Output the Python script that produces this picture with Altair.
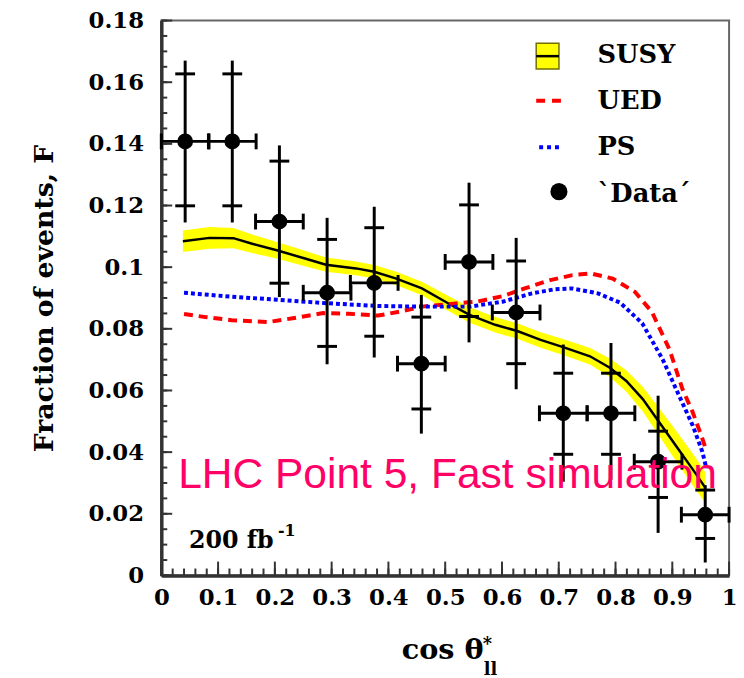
import altair as alt
import numpy as np
import pandas as pd

# ---------------- data ----------------
# SUSY prediction (black line) with its yellow uncertainty band
susy_x = [0.038, 0.085, 0.127, 0.160, 0.205, 0.253, 0.290, 0.343, 0.375, 0.414,
          0.459, 0.505, 0.543, 0.588, 0.627, 0.668, 0.709, 0.755, 0.790, 0.819,
          0.848, 0.877, 0.912, 0.941, 0.958]
susy_y = [0.1084, 0.1095, 0.1094, 0.1076, 0.1054, 0.1028, 0.1008, 0.0996, 0.0985, 0.0963,
          0.0931, 0.0883, 0.0845, 0.0813, 0.0793, 0.0764, 0.0740, 0.0711, 0.0674, 0.0631,
          0.0572, 0.0497, 0.0406, 0.0331, 0.0285]
susy_err = [0.0035, 0.0035, 0.0033, 0.0030, 0.0027, 0.0025, 0.0023, 0.0022, 0.0022, 0.0022,
            0.0022, 0.0024, 0.0025, 0.0025, 0.0025, 0.0025, 0.0026, 0.0027, 0.0030, 0.0035,
            0.0040, 0.0045, 0.0050, 0.0052, 0.0050]

# UED prediction (red dashed)
ued_x = [0.040, 0.078, 0.124, 0.188, 0.234, 0.285, 0.330, 0.382, 0.421, 0.459,
         0.511, 0.556, 0.601, 0.640, 0.685, 0.724, 0.756, 0.795, 0.834, 0.864,
         0.895, 0.918, 0.936, 0.953, 0.960]
ued_y = [0.0848, 0.0838, 0.0828, 0.0822, 0.0835, 0.0851, 0.0849, 0.0843, 0.0856, 0.0872,
         0.0881, 0.0888, 0.0906, 0.0931, 0.0958, 0.0974, 0.0980, 0.0963, 0.0920, 0.0855,
         0.0733, 0.0604, 0.0529, 0.0444, 0.0405]

# PS prediction (blue dotted)
ps_x = [0.040, 0.124, 0.208, 0.292, 0.382, 0.466, 0.543, 0.601, 0.653, 0.692,
        0.724, 0.769, 0.808, 0.847, 0.883, 0.912, 0.936, 0.953, 0.960]
ps_y = [0.0917, 0.0904, 0.0894, 0.0883, 0.0874, 0.0872, 0.0872, 0.0888, 0.0915, 0.0928,
        0.0931, 0.0915, 0.0885, 0.0818, 0.0701, 0.0583, 0.0486, 0.0401, 0.0347]

# 'Data' points with two levels of vertical errors and bin half-width
data_x = [0.042, 0.125, 0.208, 0.292, 0.375, 0.458, 0.542, 0.625, 0.708, 0.792, 0.875, 0.958]
data_y = [0.1408, 0.1408, 0.1148, 0.0917, 0.0949, 0.0687, 0.1017, 0.0853, 0.0526, 0.0526, 0.0369, 0.0197]
inner_hi = [0.1627, 0.1627, 0.1344, 0.1090, 0.1128, 0.0838, 0.1202, 0.1020, 0.0656, 0.0656, 0.0468, 0.0277]
inner_lo = [0.1199, 0.1199, 0.0948, 0.0743, 0.0776, 0.0540, 0.0840, 0.0687, 0.0393, 0.0393, 0.0253, 0.0120]
outer_hi = [0.1670, 0.1670, 0.1395, 0.1160, 0.1196, 0.0910, 0.1274, 0.1095, 0.0749, 0.0754, 0.0583, 0.0293]
outer_lo = [0.1145, 0.1145, 0.0903, 0.0685, 0.0707, 0.0460, 0.0756, 0.0604, 0.0304, 0.0310, 0.0138, 0.0042]
x_half = [0.042] * 12

x_ticks = [0, 0.1, 0.2, 0.3, 0.4, 0.5, 0.6, 0.7, 0.8, 0.9, 1]
x_minor = [round(i * 0.02, 2) for i in range(51)]
y_ticks = [0, 0.02, 0.04, 0.06, 0.08, 0.1, 0.12, 0.14, 0.16, 0.18]
y_minor = [round(i * 0.005, 3) for i in range(37)]

legend_labels = ["SUSY", "UED", "PS", "`Data´"]

# ---------------- tables ----------------
band_df = pd.DataFrame({
    "x": susy_x, "y": susy_y,
    "lo": np.array(susy_y) - np.array(susy_err),
    "hi": np.array(susy_y) + np.array(susy_err),
})
ued_df = pd.DataFrame({"x": ued_x, "y": ued_y})
ps_df = pd.DataFrame({"x": ps_x, "y": ps_y})
pts = pd.DataFrame({
    "x": data_x, "y": data_y,
    "ilo": inner_lo, "ihi": inner_hi, "olo": outer_lo, "ohi": outer_hi,
    "xlo": np.array(data_x) - np.array(x_half),
    "xhi": np.array(data_x) + np.array(x_half),
})
xmaj_df = pd.DataFrame({"v": x_ticks})
xmin_df = pd.DataFrame({"v": x_minor})
ymaj_df = pd.DataFrame({"v": y_ticks})
ymin_df = pd.DataFrame({"v": y_minor})
one = pd.DataFrame({"d": [0]})

W, H = 574, 561
SERIF = "DejaVu Serif"
AXC = "#333333"

xs = alt.Scale(domain=[0, 1], nice=False, zero=False)
ys = alt.Scale(domain=[0, 0.18], nice=False, zero=False)

ax_x_main = alt.Axis(orient="bottom", values=x_ticks, ticks=False, tickSize=0, labelPadding=11,
                     domain=True, domainColor=AXC, domainWidth=3.5, grid=False,
                     labelFont=SERIF, labelFontSize=23, labelFontWeight="bold", labelColor="black",
                     format="~g", title=None, labelFlush=False)
ax_y_main = alt.Axis(orient="left", values=y_ticks, ticks=False, tickSize=0, labelPadding=18,
                     domain=True, domainColor=AXC, domainWidth=3.5, grid=False,
                     labelFont=SERIF, labelFontSize=23, labelFontWeight="bold", labelColor="black",
                     format="~g", labelFlush=False,
                     title="Fraction of events, F", titleFont=SERIF, titleFontSize=27,
                     titleFontWeight="bold", titleColor="black", titleAngle=270,
                     titleX=-110, titleY=H / 2, titleAlign="center", titleBaseline="alphabetic")

band = alt.Chart(band_df).mark_area(color="#ffff00", opacity=1).encode(
    x=alt.X("x:Q", scale=xs, axis=ax_x_main),
    y=alt.Y("lo:Q", scale=ys, axis=ax_y_main),
    y2="hi:Q",
)

# inward ticks, placed through the scales
tick_y_major = alt.Chart(ymaj_df).mark_rule(color=AXC, strokeWidth=2).encode(
    y=alt.Y("v:Q", scale=ys, axis=None), x=alt.value(0), x2=alt.value(11))
tick_y_minor = alt.Chart(ymin_df).mark_rule(color=AXC, strokeWidth=2).encode(
    y=alt.Y("v:Q", scale=ys, axis=None), x=alt.value(0), x2=alt.value(6))
tick_x_major = alt.Chart(xmaj_df).mark_rule(color=AXC, strokeWidth=2).encode(
    x=alt.X("v:Q", scale=xs, axis=None), y=alt.value(H), y2=alt.value(H - 14))
tick_x_minor = alt.Chart(xmin_df).mark_rule(color=AXC, strokeWidth=2).encode(
    x=alt.X("v:Q", scale=xs, axis=None), y=alt.value(H), y2=alt.value(H - 7))

susy = alt.Chart(band_df).mark_line(color="black", strokeWidth=2.5).encode(
    x=alt.X("x:Q", scale=xs, axis=None),
    y=alt.Y("y:Q", scale=ys, axis=None),
)
ued = alt.Chart(ued_df).mark_line(color="#ff0000", strokeWidth=4, strokeDash=[9, 6]).encode(
    x=alt.X("x:Q", scale=xs, axis=None),
    y=alt.Y("y:Q", scale=ys, axis=None),
)
ps = alt.Chart(ps_df).mark_line(color="#0000ff", strokeWidth=4, strokeDash=[4, 3]).encode(
    x=alt.X("x:Q", scale=xs, axis=None),
    y=alt.Y("y:Q", scale=ys, axis=None),
)

vbar = alt.Chart(pts).mark_rule(color="black", strokeWidth=3).encode(
    x=alt.X("x:Q", scale=xs, axis=None),
    y=alt.Y("olo:Q", scale=ys, axis=None), y2="ohi:Q",
)
hbar = alt.Chart(pts).mark_rule(color="black", strokeWidth=3).encode(
    x=alt.X("xlo:Q", scale=xs, axis=None), x2="xhi:Q",
    y=alt.Y("y:Q", scale=ys, axis=None),
)
cap_l = alt.Chart(pts).mark_tick(color="black", orient="vertical", size=16, thickness=3, opacity=1).encode(
    x=alt.X("xlo:Q", scale=xs, axis=None), y=alt.Y("y:Q", scale=ys, axis=None))
cap_r = alt.Chart(pts).mark_tick(color="black", orient="vertical", size=16, thickness=3, opacity=1).encode(
    x=alt.X("xhi:Q", scale=xs, axis=None), y=alt.Y("y:Q", scale=ys, axis=None))
cross_hi = alt.Chart(pts).mark_tick(color="black", orient="horizontal", size=20, thickness=3, opacity=1).encode(
    x=alt.X("x:Q", scale=xs, axis=None), y=alt.Y("ihi:Q", scale=ys, axis=None))
cross_lo = alt.Chart(pts).mark_tick(color="black", orient="horizontal", size=20, thickness=3, opacity=1).encode(
    x=alt.X("x:Q", scale=xs, axis=None), y=alt.Y("ilo:Q", scale=ys, axis=None))
points = alt.Chart(pts).mark_circle(color="black", size=254, opacity=1).encode(
    x=alt.X("x:Q", scale=xs, axis=None), y=alt.Y("y:Q", scale=ys, axis=None))

# ---------------- legend (drawn by hand) ----------------
leg_box = alt.Chart(one).mark_rect(fill="#ffff00", stroke="#707000", strokeWidth=1.5).encode(
    x=alt.value(379), x2=alt.value(402), y=alt.value(23), y2=alt.value(49))
leg_susy = alt.Chart(one).mark_rule(color="black", strokeWidth=2.5).encode(
    x=alt.value(379), x2=alt.value(402), y=alt.value(36))
leg_ued = alt.Chart(one).mark_rule(color="#ff0000", strokeWidth=4, strokeDash=[9, 7]).encode(
    x=alt.value(379), x2=alt.value(404), y=alt.value(81))
leg_ps = alt.Chart(one).mark_rule(color="#0000ff", strokeWidth=4, strokeDash=[4, 4]).encode(
    x=alt.value(382), x2=alt.value(404), y=alt.value(128))
leg_pt = alt.Chart(one).mark_circle(color="black", size=300, opacity=1).encode(
    x=alt.value(402), y=alt.value(173))
leg_text = [
    alt.Chart(one).mark_text(text=lab, font=SERIF, fontSize=26, fontWeight="bold", color="black",
                             align="left", baseline="middle").encode(
        x=alt.value(441), y=alt.value(yy))
    for lab, yy in zip(legend_labels, [35, 81, 128, 175])
]

# ---------------- annotations ----------------
lumi = alt.Chart(one).mark_text(text="200 fb", font=SERIF, fontSize=24, fontWeight="bold",
                                color="black", align="left", baseline="alphabetic").encode(
    x=alt.value(28), y=alt.value(533))
lumi_exp = alt.Chart(one).mark_text(text="-1", font=SERIF, fontSize=16, fontWeight="bold",
                                    color="black", align="left", baseline="alphabetic").encode(
    x=alt.value(118), y=alt.value(521))
lhc = alt.Chart(one).mark_text(text="LHC Point 5, Fast simulation", font="Liberation Sans",
                               fontSize=43, color="#ff0066", align="left",
                               baseline="alphabetic").encode(
    x=alt.value(17), y=alt.value(473))
xt_main = alt.Chart(one).mark_text(text="cos θ", font=SERIF, fontSize=29, fontWeight="bold",
                                   color="black", align="left", baseline="alphabetic").encode(
    x=alt.value(243), y=alt.value(645))
xt_sup = alt.Chart(one).mark_text(text="*", font=SERIF, fontSize=18, fontWeight="bold",
                                  color="black", align="left", baseline="alphabetic").encode(
    x=alt.value(325), y=alt.value(636))
xt_sub = alt.Chart(one).mark_text(text="ll", font=SERIF, fontSize=18, fontWeight="bold",
                                  color="black", align="left", baseline="alphabetic").encode(
    x=alt.value(326), y=alt.value(662))

chart = alt.layer(
    band, tick_y_major, tick_y_minor, tick_x_major, tick_x_minor,
    susy, ued, ps, vbar, hbar, cap_l, cap_r, cross_hi, cross_lo, points,
    leg_box, leg_susy, leg_ued, leg_ps, leg_pt, *leg_text,
    lumi, lumi_exp, lhc, xt_main, xt_sup, xt_sub,
).resolve_axis(x="independent", y="independent").properties(
    width=W, height=H,
    autosize=alt.AutoSizeParams(type="none"),
    padding={"left": 155, "top": 9, "right": 7, "bottom": 100},
    background="white",
).configure_view(stroke="#666666", strokeWidth=2)

chart.save("out.html", embed_options={"renderer": "svg", "actions": False})
